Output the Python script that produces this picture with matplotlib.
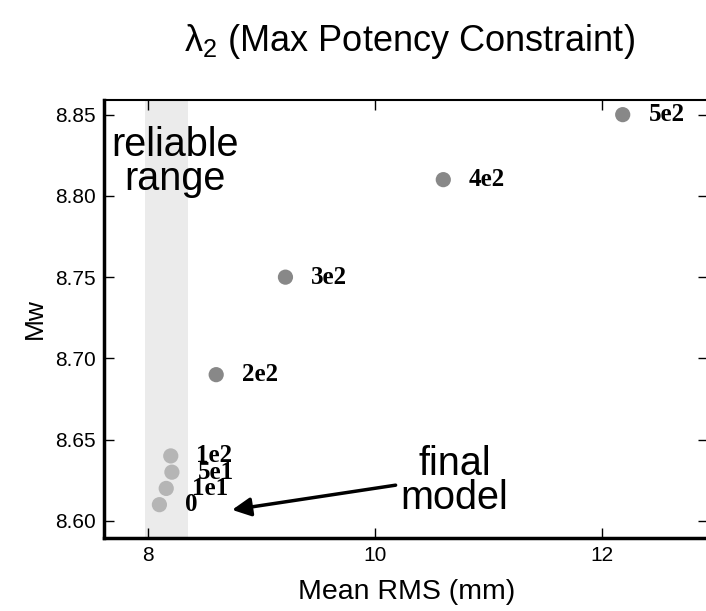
import matplotlib.pyplot as plt

# values
labels = ['0', '1e1', '5e1', '1e2', '2e2', '3e2', '4e2', '5e2']
rms = [8.10, 8.16, 8.21, 8.20, 8.60, 9.21, 10.60, 12.18]
mw = [8.61, 8.62, 8.63, 8.64, 8.69, 8.75, 8.81, 8.85]
in_range = [True, True, True, True, False, False, False, False]

x_ticks = [8, 10, 12]
y_ticks = [8.60, 8.65, 8.70, 8.75, 8.80, 8.85]
reliable = (7.97, 8.35)

plt.rcParams['font.family'] = ['Liberation Sans', 'DejaVu Sans']

fig = plt.figure(figsize=(7.06, 6.11), dpi=100)
ax = fig.add_axes([0.1473, 0.1195, 0.856, 0.7168])

# shaded "reliable range" band
ax.axvspan(reliable[0], reliable[1], color='#ebebeb', lw=0, zorder=0)

colors = ['#b5b5b5' if r else '#888888' for r in in_range]
ax.scatter(rms, mw, s=120, c=colors, edgecolors='none', zorder=3)

for x, y, lab in zip(rms, mw, labels):
    ax.annotate(lab, (x, y), xytext=(18.5, 0), textcoords='offset points',
                ha='left', va='center', fontsize=18, fontweight='bold',
                family=['Liberation Serif', 'DejaVu Serif'], zorder=4)

ax.text(8.24, 8.821, 'reliable\nrange', ha='center', va='center',
        fontsize=28.5, linespacing=0.85)
ax.text(10.70, 8.6245, 'final\nmodel', ha='center', va='center',
        fontsize=28.5, linespacing=0.85)
ax.annotate('', xy=(8.74, 8.6068), xytext=(10.18, 8.622),
            arrowprops=dict(arrowstyle='-|>', lw=2.5, color='black',
                            mutation_scale=28, shrinkA=0, shrinkB=0))

ax.set_xlim(7.612, 12.934)
ax.set_ylim(8.5895, 8.859)
ax.set_xticks(x_ticks)
ax.set_yticks(y_ticks)
ax.set_yticklabels([f'{v:.2f}' for v in y_ticks])
ax.tick_params(direction='in', length=7, width=1, labelsize=15,
               top=True, right=True, pad=6)

for side in ['left', 'bottom']:
    ax.spines[side].set_linewidth(2.5)
for side in ['top', 'right']:
    ax.spines[side].set_linewidth(1.5)

ax.set_xlabel('Mean RMS (mm)', fontsize=20.5, labelpad=10)
ax.set_ylabel('Mw', fontsize=19, labelpad=6)
fig.text(0.58, 0.932, r'$\mathregular{\lambda_2}$ (Max Potency Constraint)',
         ha='center', va='center', fontsize=26)

fig.savefig('out.png', dpi=100)
